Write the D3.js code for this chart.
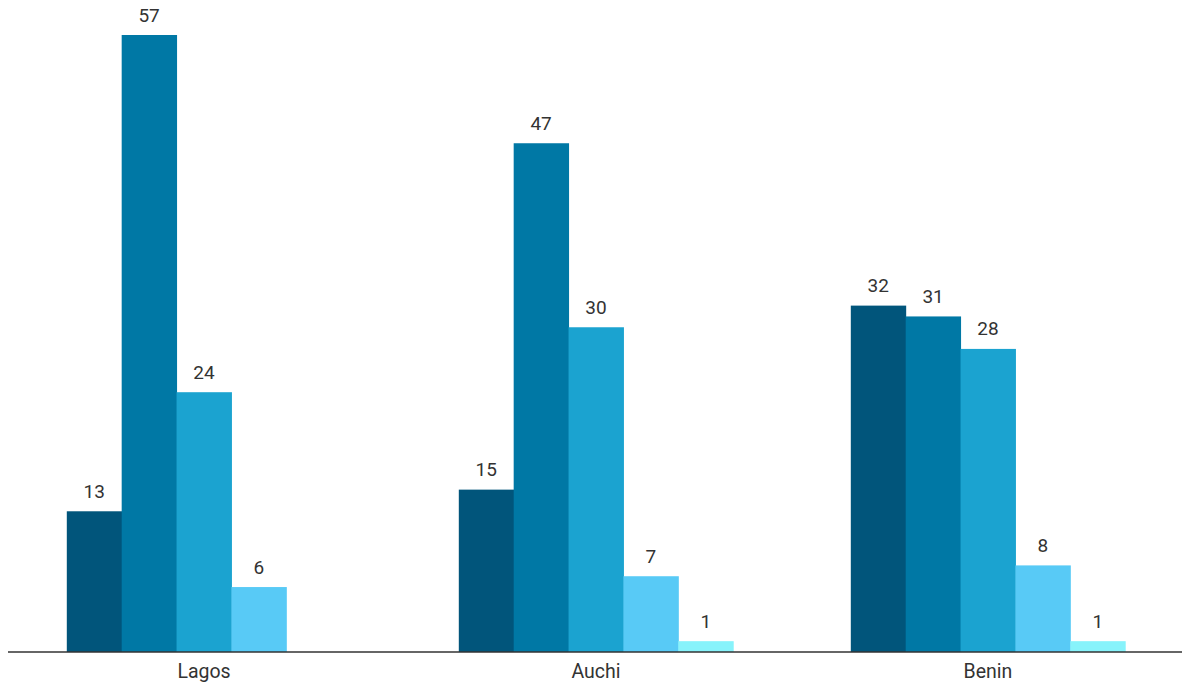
<!DOCTYPE html>
<html><head><meta charset="utf-8">
<script src="https://cdn.jsdelivr.net/npm/d3@7"></script>
<style>html,body{margin:0;padding:0;background:#fff;}svg{display:block;}</style>
</head><body>
<svg id="chart" width="1182" height="685"></svg>
<script>
const categories = ["Lagos", "Auchi", "Benin"];
const seriesNames = ["S1", "S2", "S3", "S4", "S5"];
const s1 = [13, 15, 32];
const s2 = [57, 47, 31];
const s3 = [24, 30, 28];
const s4 = [6, 7, 8];
const s5 = [0, 1, 1];
const colors = ["#01557b", "#0078a5", "#1ba3d0", "#58caf6", "#87f3fb"];

const allSeries = [s1, s2, s3, s4, s5];
const data = categories.map((c, i) => ({cat: c, vals: allSeries.map((s, j) => ({key: seriesNames[j], idx: j, v: s[i]}))}));

const svg = d3.select("#chart");
const x0 = d3.scaleBand().domain(categories).range([8, 1184]).paddingInner(0.3).paddingOuter(0.15);
const x1 = d3.scaleBand().domain(seriesNames).range([0, x0.bandwidth()]).padding(0);
const y = d3.scaleLinear().domain([0, 57]).range([652, 35]);

const g = svg.append("g");
const groups = g.selectAll("g.grp").data(data).join("g").attr("class","grp")
  .attr("transform", d => `translate(${x0(d.cat)},0)`);
groups.selectAll("rect").data(d => d.vals.filter(v => v.v > 0)).join("rect")
  .attr("x", d => x1(d.key)).attr("width", x1.bandwidth() + 0.5)
  .attr("y", d => y(d.v)).attr("height", d => y(0) - y(d.v))
  .attr("fill", d => colors[d.idx]);
groups.selectAll("text").data(d => d.vals.filter(v => v.v > 0)).join("text")
  .attr("x", d => x1(d.key) + x1.bandwidth()/2)
  .attr("y", d => y(d.v) - 13.5)
  .attr("text-anchor", "middle")
  .attr("font-family", "Roboto, sans-serif").attr("font-size", 19)
  .attr("fill", "#333").text(d => d.v);

const axis = svg.append("g").attr("transform", `translate(0,${y(0)})`)
  .call(d3.axisBottom(x0).tickSize(0).tickPadding(12));
axis.select(".domain").attr("stroke", "#333").attr("stroke-width", 1.5).attr("d", "M8,0H1182");
axis.selectAll("text").attr("font-family", "Roboto, sans-serif").attr("font-size", 19.5).attr("fill", "#333");
</script>
</body></html>
